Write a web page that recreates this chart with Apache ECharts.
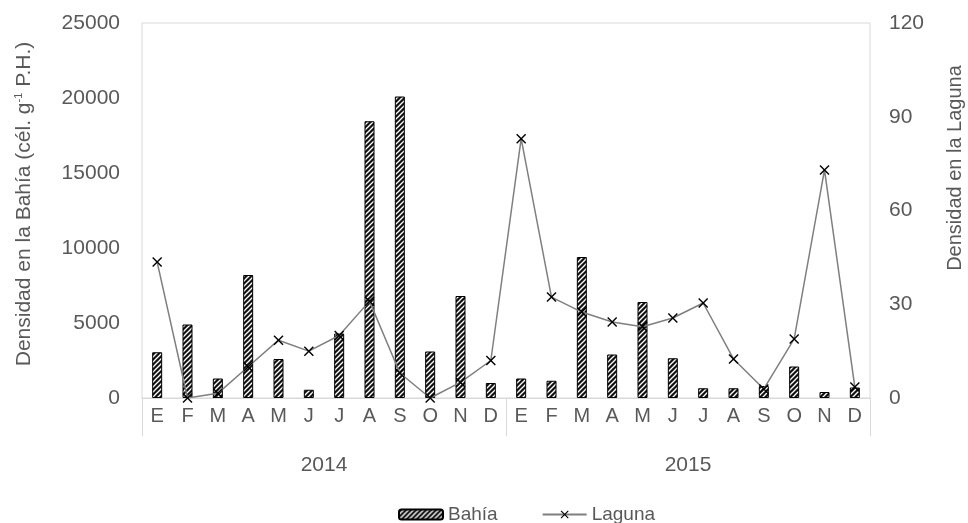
<!DOCTYPE html>
<html><head><meta charset="utf-8">
<script src="https://cdn.jsdelivr.net/npm/echarts@6/dist/echarts.min.js"></script>
<style>html,body{margin:0;padding:0;background:#fff}#c{width:968px;height:523px}</style>
</head><body><div id="c"></div>
<script>
const months = ['E','F','M','A','M','J','J','A','S','O','N','D','E','F','M','A','M','J','J','A','S','O','N','D'];
const years = ['2014','2015'];
const bahia = [3050,4900,1300,8200,2600,550,4300,18450,20100,3100,6800,1000,
               1300,1150,9400,2900,6400,2650,650,650,800,2100,400,700];
const laguna = [43.5,0,1.5,10,18.5,15,20,31,8,0,5,12,
                83,32.3,27.5,24.3,22.8,25.6,30.4,12.5,2.9,18.9,73,3.5];
const leftTicks = {min:0,max:25000,interval:5000};
const rightTicks = {min:0,max:120,interval:30};

const cv = document.createElement('canvas');
cv.width = 5; cv.height = 5;
const g = cv.getContext('2d');
g.fillStyle = '#111'; g.fillRect(0,0,5,5);
g.strokeStyle = '#fff'; g.lineWidth = 1.3;
g.beginPath(); g.moveTo(-1,6); g.lineTo(6,-1); g.stroke();
g.beginPath(); g.moveTo(-1,1); g.lineTo(1,-1); g.stroke();
g.beginPath(); g.moveTo(4,6); g.lineTo(6,4); g.stroke();

const txt = '#595959';
const font = 'Liberation Sans';
const chart = echarts.init(document.getElementById('c'));
chart.setOption({
  animation:false,
  textStyle:{fontFamily:font},
  grid:{left:142,right:98,top:23,bottom:125,show:true,borderColor:'#d9d9d9',borderWidth:1},
  legend:{left:393,top:500,itemWidth:44,itemHeight:10,itemGap:44,
    textStyle:{fontSize:19,color:txt,fontFamily:font},
    data:[{name:'Bahía'},{name:'Laguna'}]},
  xAxis:[
    {type:'category',data:months,position:'bottom',
     axisLine:{lineStyle:{color:'#d9d9d9'}},axisTick:{show:false},
     axisLabel:{color:txt,fontSize:20,margin:8,interval:0}},
    {type:'category',data:years,position:'bottom',
     axisLine:{show:false},
     axisTick:{show:true,length:38,alignWithLabel:false,interval:0,lineStyle:{color:'#d9d9d9'}},
     axisLabel:{color:txt,fontSize:21,margin:57}}
  ],
  yAxis:[
    {type:'value',min:leftTicks.min,max:leftTicks.max,interval:leftTicks.interval,
     splitLine:{show:false},axisLine:{show:false},axisTick:{show:false},
     axisLabel:{color:txt,fontSize:21,margin:22,formatter:v=>String(v)}},
    {type:'value',min:rightTicks.min,max:rightTicks.max,interval:rightTicks.interval,
     splitLine:{show:false},axisLine:{show:false},axisTick:{show:false},
     axisLabel:{color:txt,fontSize:21,margin:19,formatter:v=>String(v)}}
  ],
  graphic:[
    {type:'text',x:24,y:204,rotation:Math.PI/2,
     style:{text:'{a|Densidad en la Bahía (cél. g}{s|-1}{a| P.H.)}',
       align:'center',verticalAlign:'middle',
       rich:{a:{fontSize:21,fill:txt,fontFamily:font},
             s:{fontSize:11,fill:txt,fontFamily:font,verticalAlign:'top',padding:[0,0,10,0]}}}},
    {type:'text',x:955,y:168,rotation:Math.PI/2,
     style:{text:'Densidad en la Laguna',fontSize:20,fill:txt,fontFamily:font,
       align:'center',verticalAlign:'middle'}}
  ],
  series:[
    {name:'Bahía',type:'bar',xAxisIndex:0,yAxisIndex:0,data:bahia,barWidth:10,
     itemStyle:{color:{image:cv,repeat:'repeat'},borderColor:'#000',borderWidth:1}},
    {name:'Laguna',type:'line',xAxisIndex:0,yAxisIndex:1,data:laguna,
     symbol:'path://M0,1L1,0L5,4L9,0L10,1L6,5L10,9L9,10L5,6L1,10L0,9L4,5Z',symbolSize:10,
     lineStyle:{color:'#7f7f7f',width:1.5},itemStyle:{color:'#000'}}
  ]
});
</script></body></html>
